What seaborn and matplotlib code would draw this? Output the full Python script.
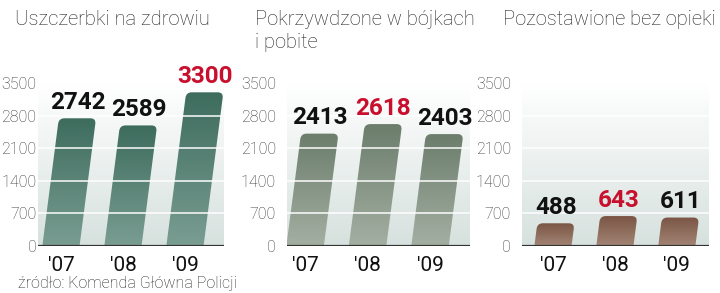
import numpy as np
import pandas as pd
import matplotlib
matplotlib.use("Agg")
import matplotlib.pyplot as plt
import seaborn as sns
from matplotlib.path import Path
from matplotlib.patches import PathPatch
from matplotlib.colors import LinearSegmentedColormap

# ---- data ----
years = ["'07", "'08", "'09"]
injuries = [2742, 2589, 3300]
fights = [2413, 2618, 2403]
neglected = [488, 643, 611]
titles = ["Uszczerbki na zdrowiu", "Pokrzywdzone w bójkach\ni pobite", "Pozostawione bez opieki"]
yticks = [0, 700, 1400, 2100, 2800, 3500]
source = "źródło: Komenda Główna Policji"

series = [injuries, fights, neglected]
bar_top_colors = ["#3d6c5d", "#6c7d6c", "#7a5545"]
bar_bot_colors = ["#7a9d92", "#a3afa2", "#a38575"]
RED = "#c8102e"

sns.set_theme(style="white")
plt.rcParams['font.family'] = ['Roboto', 'DejaVu Sans']

W, H = 720, 293
fig = plt.figure(figsize=(W / 100, H / 100), dpi=100)

# axes pixel boxes: left, right ; xlims
boxes = [(38, 224, -0.37, 2.63), (287, 470, -0.29, 2.64), (522, 709, -0.50, 2.52)]
title_x = [15, 255, 503]
y_bottom_px, y_top_px = 246, 83

bg_cmap = LinearSegmentedColormap.from_list("bg", ["#d6e1de", "#ffffff"])

for i, (vals, (l, r, xl0, xl1)) in enumerate(zip(series, boxes)):
    ax = fig.add_axes([l / W, (H - y_bottom_px) / H, (r - l) / W, (y_bottom_px - y_top_px) / H])
    df = pd.DataFrame({"year": years, "value": vals})
    sns.barplot(data=df, x="year", y="value", ax=ax, color=bar_top_colors[i], width=0.6)

    ymax = 3500
    # background gradient
    grad = np.linspace(0, 1, 256).reshape(-1, 1)
    ax.imshow(grad, extent=[xl0, xl1, 0, ymax], origin="lower", aspect="auto",
              cmap=bg_cmap, zorder=0, interpolation="bicubic")

    slope = 0.32 / 3300  # top shift in x-units per value unit
    rx, ry = 0.09, 120
    bcmap = LinearSegmentedColormap.from_list("b%d" % i, [bar_bot_colors[i], bar_top_colors[i]])
    vmax = max(vals)
    for j, p in enumerate(list(ax.patches)):
        x0, w, h = p.get_x(), p.get_width(), p.get_height()
        p.set_visible(False)
        s = slope * h
        ryy = min(ry, h * 0.4)
        frac = ryy / h
        verts = [
            (x0, 0), (x0 + w, 0),
            (x0 + w + s * (1 - frac), h - ryy),
            (x0 + w + s, h), (x0 + w + s - rx, h),
            (x0 + s + rx, h),
            (x0 + s, h), (x0 + s * (1 - frac), h - ryy),
            (x0, 0),
        ]
        codes = [Path.MOVETO, Path.LINETO, Path.LINETO, Path.CURVE3, Path.CURVE3,
                 Path.LINETO, Path.CURVE3, Path.CURVE3, Path.CLOSEPOLY]
        pp = PathPatch(Path(verts, codes), facecolor="none", edgecolor="none",
                       transform=ax.transData)
        ax.add_patch(pp)
        im = ax.imshow(np.linspace(0, 1, 256).reshape(-1, 1),
                       extent=[x0, x0 + w + s, 0, h], origin="lower", aspect="auto",
                       cmap=bcmap, zorder=2, interpolation="bicubic")
        im.set_clip_path(pp)
        # value label
        cx = x0 + s + w / 2
        ax.annotate(f"{vals[j]}", (cx, h), xytext=(0, 3), textcoords="offset points",
                    ha="center", va="bottom", fontsize=17.5, fontweight="bold",
                    color=RED if vals[j] == vmax else "#111111", zorder=5)

    # white gridlines over bars
    for yt in yticks[1:-1]:
        ax.axhline(yt, color="white", lw=1.2, alpha=0.9, zorder=3)
    ax.axhline(0, color="#333333", lw=1.6, zorder=4)

    ax.set_xlim(xl0, xl1)
    ax.set_ylim(0, ymax)
    ax.set_yticks(yticks)
    ax.set_yticklabels([str(t) for t in yticks], fontsize=11.5, color="#333333", fontweight="light")
    ax.set_xticks([0, 1, 2])
    ax.set_xticklabels(years, fontsize=15, color="#111111")
    ax.tick_params(axis="y", length=0, pad=1 if i == 0 else 8)
    ax.tick_params(axis="x", length=0, pad=7)
    ax.set_xlabel("")
    ax.set_ylabel("")
    for sp in ax.spines.values():
        sp.set_visible(False)
    ax.set_facecolor("none")

    fig.text(title_x[i] / W, 1 - 10 / H, titles[i], ha="left", va="top", fontsize=14.5,
             color="#222222", fontweight="light", linespacing=1.3)

fig.text(18 / W, 1 - 291 / H, source, ha="left", va="bottom", fontsize=11.5,
         color="#222222", fontweight="light")

fig.savefig("out.png", dpi=100)
